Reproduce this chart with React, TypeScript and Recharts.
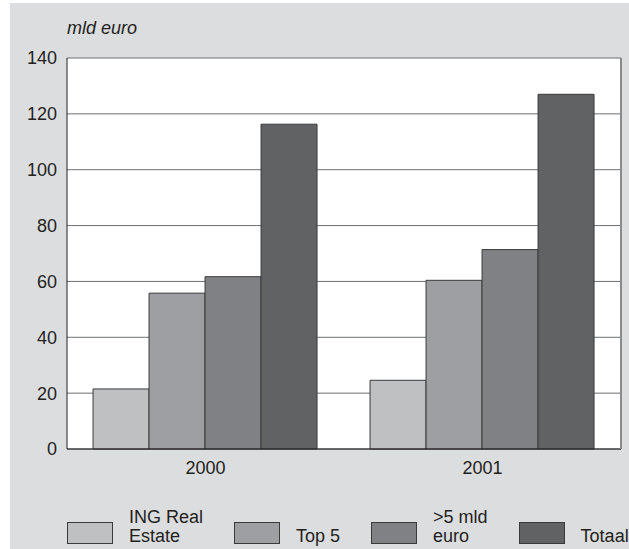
import { BarChart, Bar, XAxis, YAxis, CartesianGrid } from 'recharts';

const YEARS = ['2000', '2001'];
const ING_REAL_ESTATE = [21.5, 24.6];
const TOP_5 = [55.8, 60.4];
const OVER_5_MLD = [61.7, 71.4];
const TOTAAL = [116.3, 127];
const Y_TICKS = [0, 20, 40, 60, 80, 100, 120, 140];

const SERIES = [
  { key: 'ing', lines: ['ING Real', 'Estate'], values: ING_REAL_ESTATE, color: '#bfc0c2' },
  { key: 'top5', lines: ['Top 5'], values: TOP_5, color: '#9d9fa2' },
  { key: 'over5', lines: ['>5 mld', 'euro'], values: OVER_5_MLD, color: '#808184' },
  { key: 'totaal', lines: ['Totaal'], values: TOTAAL, color: '#616264' },
];

const FONT = '"Liberation Sans", Arial, sans-serif';
const INK = '#231f20';

const data = YEARS.map((year, i) => {
  const row: Record<string, string | number> = { year };
  SERIES.forEach((s) => {
    row[s.key] = s.values[i];
  });
  return row;
});

function LegendRow() {
  return (
    <div
      style={{
        position: 'absolute',
        left: 67,
        top: 507,
        height: 39,
        display: 'flex',
        alignItems: 'flex-end',
        gap: 31,
        fontFamily: FONT,
        fontSize: 18,
        lineHeight: '19px',
        color: INK,
      }}
    >
      {SERIES.map((s) => (
        <div key={s.key} style={{ display: 'flex', alignItems: 'flex-end' }}>
          <div
            style={{
              width: 44,
              height: 20,
              background: s.color,
              border: '1px solid #3a3a3a',
              marginBottom: 2,
              marginRight: 16,
            }}
          />
          <div style={{ whiteSpace: 'nowrap' }}>
            {s.lines.map((l) => (
              <div key={l}>{l}</div>
            ))}
          </div>
        </div>
      ))}
    </div>
  );
}

export default function App() {
  return (
    <div
      style={{
        position: 'absolute',
        left: 0,
        top: 0,
        width: 629,
        height: 549,
        background: '#ffffff',
        overflow: 'hidden',
      }}
    >
      <div
        style={{
          position: 'absolute',
          left: 10,
          top: 3,
          right: 0,
          bottom: 0,
          background: '#dcdddf',
        }}
      />
      <div
        style={{
          position: 'absolute',
          left: 67,
          top: 18,
          fontFamily: FONT,
          fontSize: 18,
          fontStyle: 'italic',
          lineHeight: '20px',
          color: INK,
        }}
      >
        mld euro
      </div>
      <div style={{ position: 'absolute', left: 0, top: 0 }}>
        <BarChart
          width={629}
          height={549}
          data={data}
          margin={{ top: 58, right: 7, left: 10, bottom: 60 }}
          barCategoryGap="9.4%"
          barGap={0}
        >
          <CartesianGrid
            yAxisId="left"
            vertical={false}
            stroke="#6d6e71"
            fill="#ffffff"
            fillOpacity={1}
          />
          <XAxis
            dataKey="year"
            height={40}
            tickLine={false}
            tickMargin={6}
            axisLine={{ stroke: INK, strokeWidth: 1 }}
            tick={{ fill: INK, fontSize: 18, fontFamily: FONT }}
          />
          <YAxis
            yAxisId="left"
            width={57}
            domain={[0, 140]}
            ticks={Y_TICKS}
            interval={0}
            tickLine={false}
            tickMargin={4}
            axisLine={{ stroke: INK, strokeWidth: 1 }}
            tick={{ fill: INK, fontSize: 18, fontFamily: FONT }}
          />
          <YAxis
            yAxisId="right"
            orientation="right"
            width={1}
            domain={[0, 140]}
            tick={false}
            tickLine={false}
            axisLine={{ stroke: '#8a8a8a', strokeWidth: 2 }}
          />
          {SERIES.map((s) => (
            <Bar
              key={s.key}
              yAxisId="left"
              dataKey={s.key}
              fill={s.color}
              stroke="#3a3a3a"
              strokeWidth={1}
              isAnimationActive={false}
            />
          ))}
        </BarChart>
      </div>
      <LegendRow />
    </div>
  );
}
